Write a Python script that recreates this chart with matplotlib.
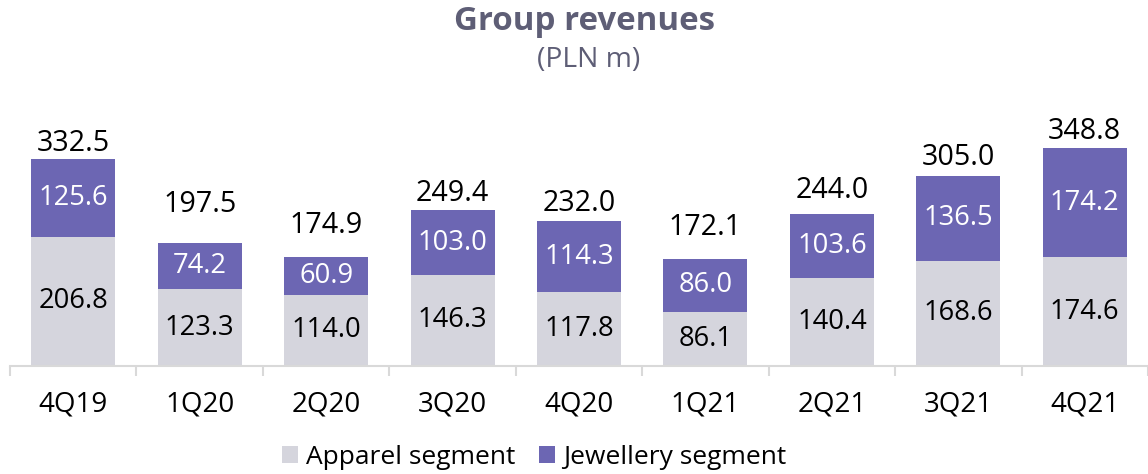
import matplotlib
matplotlib.use("Agg")
import matplotlib.pyplot as plt
from matplotlib.patches import Patch

plt.rcParams['font.family'] = ['Open Sans', 'DejaVu Sans']

categories = ['4Q19', '1Q20', '2Q20', '3Q20', '4Q20', '1Q21', '2Q21', '3Q21', '4Q21']
apparel = [206.8, 123.3, 114.0, 146.3, 117.8, 86.1, 140.4, 168.6, 174.6]
jewellery = [125.6, 74.2, 60.9, 103.0, 114.3, 86.0, 103.6, 136.5, 174.2]
totals = [332.5, 197.5, 174.9, 249.4, 232.0, 172.1, 244.0, 305.0, 348.8]

# vertical offsets (px) of total labels above bar tops
total_offsets_px = [15, 38, 31, 17, 18, 31, 23, 18, 17]

C_APP = '#d5d5dd'
C_JEW = '#6c66b3'
C_TITLE = '#5e5e76'
C_AXIS = '#d9d9d9'

W, H = 1148, 474
fig = plt.figure(figsize=(W / 100, H / 100), dpi=100)
ax_top_px, ax_bot_px = 100, 366
ax = fig.add_axes([10 / W, 1 - ax_bot_px / H, 1 - 10 / W, (ax_bot_px - ax_top_px) / H])
px_per_unit = 0.624
ax.set_ylim(0, (ax_bot_px - ax_top_px) / px_per_unit)
ax.set_xlim(-0.5, len(categories) - 0.5)

x = list(range(len(categories)))
bw = 0.665
ax.bar(x, apparel, bw, color=C_APP, edgecolor='none', label='Apparel segment')
ax.bar(x, jewellery, bw, bottom=apparel, color=C_JEW, edgecolor='none', label='Jewellery segment')

for i in x:
    ax.text(i, apparel[i] / 2, f'{apparel[i]:.1f}', ha='center', va='center', fontsize=19.7, color='black')
    ax.text(i, apparel[i] + jewellery[i] / 2, f'{jewellery[i]:.1f}', ha='center', va='center', fontsize=19.7, color='white')
    ax.annotate(f'{totals[i]:.1f}', (i, apparel[i] + jewellery[i]), xytext=(0, total_offsets_px[i] * 0.72),
                textcoords='offset points', ha='center', va='center', fontsize=20.6, color='black')

for s in ['top', 'right', 'left']:
    ax.spines[s].set_visible(False)
ax.spines['bottom'].set_color(C_AXIS)
ax.spines['bottom'].set_linewidth(1.5)
ax.set_yticks([])
ax.set_xticks([i - 0.5 for i in range(len(categories) + 1)], minor=False)
ax.set_xticklabels([])
ax.set_xticks(x, minor=True)
ax.set_xticklabels(categories, minor=True, fontsize=20)
ax.tick_params(axis='x', which='major', length=7, color=C_AXIS, width=1.5)
ax.tick_params(axis='x', which='minor', length=0, pad=18)

fig.text(584 / W, 1 - 22 / H, 'Group revenues', ha='center', va='center', fontsize=23.8, fontweight='bold', color=C_TITLE)
fig.text(589 / W, 1 - 60 / H, '(PLN m)', ha='center', va='center', fontsize=20.3, color=C_TITLE)

handles = [Patch(facecolor=C_APP, label='Apparel segment'), Patch(facecolor=C_JEW, label='Jewellery segment')]
fig.legend(handles=handles, loc='center', bbox_to_anchor=(534 / W, 1 - 457 / H), ncol=2, frameon=False,
           fontsize=19, handlelength=0.6, handleheight=0.6, handletextpad=0.3, columnspacing=0.9)

fig.savefig('out.png', dpi=100)
